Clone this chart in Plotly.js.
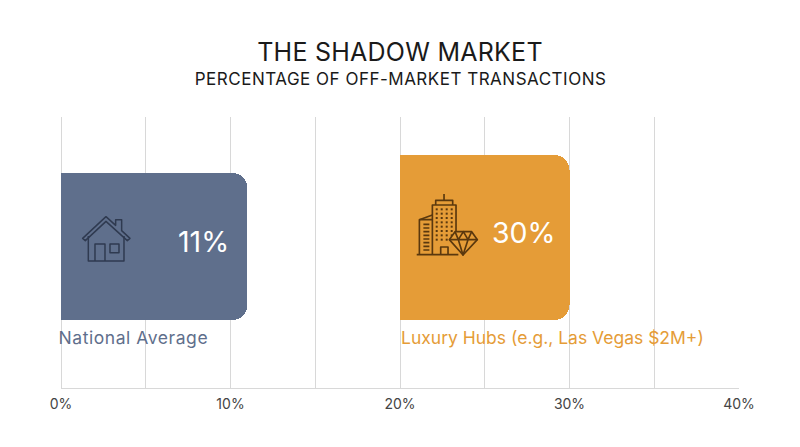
<!DOCTYPE html>
<html>
<head>
<meta charset="utf-8">
<script src="https://cdn.plot.ly/plotly-3.0.1.min.js"></script>
<style>
html,body{margin:0;padding:0;background:#fff}
.gtitle{letter-spacing:.25px}
.subtitle-ann text{letter-spacing:.5px}
.national-ann text{letter-spacing:.55px}
</style>
</head>
<body>
<div id="chart" style="width:800px;height:447px"></div>
<script>
// Data
const categories = ["National Average", "Luxury Hubs (e.g., Las Vegas $2M+)"];
const barStarts = [0, 20];
const barEnds = [11, 30];
const valueLabels = ["11%", "30%"];
const tickValues = [0, 10, 20, 30, 40];
const tickLabels = ["0%", "10%", "20%", "30%", "40%"];
const barColors = ["#5f6f8c", "#e59c37"];

const FONT = "Inter, 'Open Sans', sans-serif";

// Vertical layout, in plot pixels measured from the plot bottom
const barBottom = 68;
const barHeights = [147, 165];
const valueLabelY = [147, 156];
const categoryLabelY = 51;

const houseSvg = `<svg xmlns="http://www.w3.org/2000/svg" viewBox="90 160 160 150" preserveAspectRatio="none">
<g fill="none" stroke="#2f3a50" stroke-width="4.5" stroke-linejoin="round">
<path d="M98 235 L168 170 L197 196 L197 179 L215 179 L215 212 L240 235 L232 242 L168 184 L106 242 Z"/>
<path d="M115 228 L115 303 L222 303 L222 228"/>
<path d="M135 303 L135 252 L165 252 L165 303"/>
<rect x="180" y="252" width="27" height="26"/>
</g></svg>`;

let dots = "";
for (const wx of [140, 155, 170, 185]) for (let wy = 193; wy <= 293; wy += 13) {
  if (wy > 290 && wx > 150 && wx < 175) continue;
  dots += `<rect x="${wx-3}" y="${wy-3}" width="6" height="6"/>`;
}
let bands = "";
for (let by = 238; by <= 316; by += 11) bands += `<path d="M100 ${by} H118"/>`;
const towerSvg = `<svg xmlns="http://www.w3.org/2000/svg" viewBox="70 140 200 200" preserveAspectRatio="none">
<g fill="none" stroke="#5a380e" stroke-width="5" stroke-linejoin="round">
<path d="M80 329 H205"/>
<path d="M127 328 V180 H198 V262"/>
<path d="M137 180 V166 H188 V180"/>
<path d="M162 166 V147"/>
<path d="M127 210 L88 224 V328"/>
<path d="M88 224 H127"/>
${bands}
<path d="M152 328 V306 H174 V328"/>
<g fill="#5a380e" stroke="none">${dots}</g>
<path fill="#e59c37" d="M178 284 L195 260 H245 L262 284 L219 330 Z"/>
<path d="M178 284 H262 M195 260 L205 284 L219 330 L234 284 L245 260 M205 284 L220 260 L234 284"/>
</g></svg>`;
const uri = s => "data:image/svg+xml;charset=utf-8," + encodeURIComponent(s);

const barY = barHeights.map(h => barBottom + h / 2);

const spacer = {
  type: "bar", orientation: "h",
  x: barStarts, y: barY, width: barHeights,
  marker: { color: "rgba(0,0,0,0)", line: { width: 0 } },
  hoverinfo: "skip"
};
const segment = {
  type: "bar", orientation: "h",
  x: barEnds.map((e, i) => e - barStarts[i]),
  y: barY,
  width: barHeights,
  marker: { color: barColors, cornerradius: 15, line: { width: 0 } },
  text: categories,
  textposition: "none",
  hoverinfo: "text"
};

const valueAnns = valueLabels.map((t, i) => ({
  x: barEnds[i], y: valueLabelY[i], xref: "x", yref: "y",
  text: t, showarrow: false, xanchor: "right", yanchor: "middle",
  xshift: i === 0 ? -16 : -12,
  font: { family: FONT, size: 28.5, color: "#ffffff" }
}));
const catAnns = categories.map((t, i) => ({
  x: barStarts[i], y: categoryLabelY, xref: "x", yref: "y",
  text: t, showarrow: false, xanchor: "left", yanchor: "middle", xshift: i === 0 ? 0 : -1,
  font: { family: FONT, size: 17.5, color: barColors[i] }
}));

const layout = {
  width: 800, height: 447,
  margin: { l: 61, r: 61, t: 117, b: 59 },
  paper_bgcolor: "#ffffff", plot_bgcolor: "#ffffff",
  showlegend: false,
  barmode: "stack",
  bargap: 0,
  title: {
    text: "THE SHADOW MARKET",
    x: 0.5, xanchor: "center", xref: "paper",
    y: 1 - 52 / 447, yanchor: "middle",
    font: { family: FONT, size: 25, color: "#1a1a1a" }
  },
  xaxis: {
    range: [0, 40], tickmode: "array", tickvals: tickValues, ticktext: tickLabels,
    showgrid: true, gridcolor: "#d8d8d8", gridwidth: 1,
    minor: { tickmode: "linear", dtick: 5, showgrid: true, gridcolor: "#d8d8d8", gridwidth: 1, ticks: "" },
    zeroline: true, zerolinecolor: "#d8d8d8", zerolinewidth: 1,
    showline: true, linecolor: "#d8d8d8", linewidth: 1, ticks: "", ticklen: 0,
    ticklabelstandoff: 3,
    tickfont: { family: FONT, size: 14, color: "#444444" }
  },
  yaxis: {
    range: [0, 271], visible: false, showgrid: false, zeroline: false, fixedrange: true
  },
  annotations: [
    { x: 0.5, y: (388 - 79) / 271, xref: "paper", yref: "paper", xanchor: "center", yanchor: "middle",
      showarrow: false, text: "PERCENTAGE OF OFF-MARKET TRANSACTIONS",
      font: { family: FONT, size: 17, color: "#1a1a1a" } }
  ].concat(valueAnns, catAnns),
  images: [
    { source: uri(houseSvg), xref: "x", yref: "y", x: 1.12, y: 174.67, sizex: 3.147, sizey: 50,
      sizing: "stretch", xanchor: "left", yanchor: "top", layer: "above" },
    { source: uri(towerSvg), xref: "x", yref: "y", x: 20.79, y: 196.33, sizex: 3.93, sizey: 66.67,
      sizing: "stretch", xanchor: "left", yanchor: "top", layer: "above" }
  ]
};

Plotly.newPlot("chart", [spacer, segment], layout, { displayModeBar: false, staticPlot: true }).then(() => {
  const anns = document.querySelectorAll(".annotation");
  anns[0].classList.add("subtitle-ann");
  anns[3].classList.add("national-ann");
});
</script>
</body>
</html>
